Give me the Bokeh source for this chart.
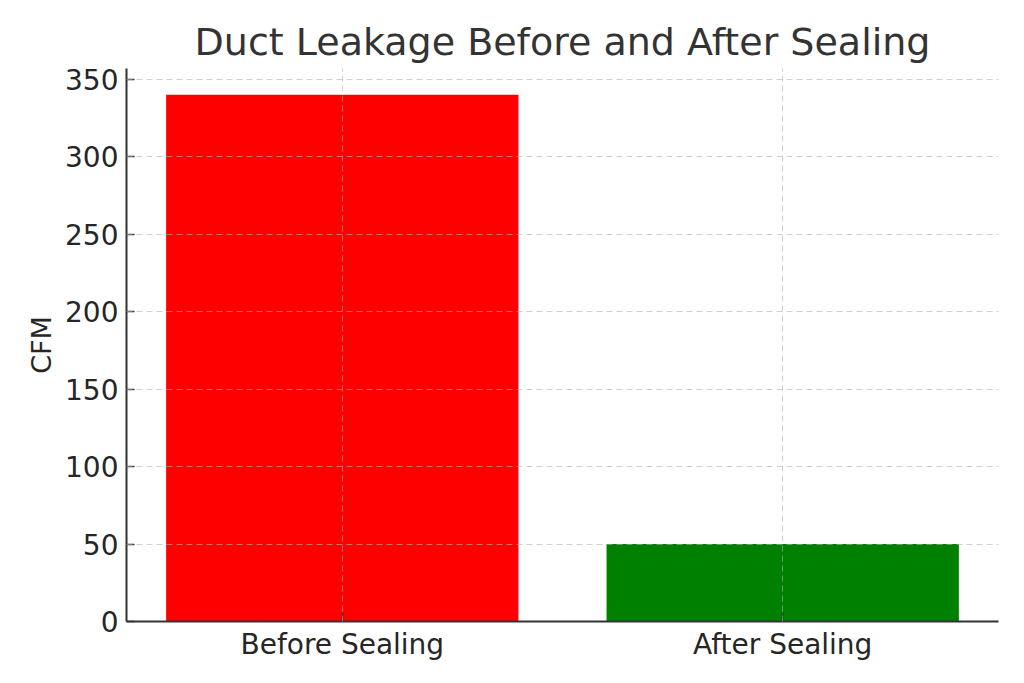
from bokeh.plotting import figure
from bokeh.models import Range1d, FixedTicker
from bokeh.embed import file_html
from bokeh.resources import INLINE

categories = ["Before Sealing", "After Sealing"]
cfm_values = [340, 50]
bar_colors = ["#ff0000", "#008000"]
y_ticks = [0, 50, 100, 150, 200, 250, 300, 350]

xs = list(range(len(categories)))

p = figure(width=1016, height=675, output_backend="svg", toolbar_location=None,
           x_range=Range1d(-0.49, len(categories) - 1 + 0.49),
           y_range=Range1d(0, max(cfm_values) * 1.05),
           title="Duct Leakage Before and After Sealing",
           min_border_left=126, min_border_right=18, min_border_top=68, min_border_bottom=54)

p.vbar(x=xs, top=cfm_values, width=0.8, color=bar_colors, line_color=None)

p.title.align = "center"
p.title.text_font = "DejaVu Sans"
p.title.text_font_size = "38px"
p.title.text_font_style = "normal"
p.title.text_color = "#333333"

p.outline_line_color = None
p.background_fill_color = "white"
p.border_fill_color = "white"

p.xaxis.ticker = FixedTicker(ticks=xs)
p.xaxis.major_label_overrides = {i: c for i, c in enumerate(categories)}
p.yaxis.ticker = FixedTicker(ticks=y_ticks)
p.yaxis.axis_label = "CFM"

for ax in (p.xaxis, p.yaxis):
    ax.axis_line_color = "#333333"
    ax.axis_line_width = 2
    ax.major_tick_line_color = "#333333"
    ax.major_tick_line_width = 1.5
    ax.major_tick_in = 8
    ax.major_tick_out = 0
    ax.minor_tick_line_color = None
    ax.major_label_text_font = "DejaVu Sans"
    ax.major_label_text_font_size = "28px"
    ax.major_label_text_color = "#262626"
    ax.axis_label_text_font = "DejaVu Sans"
    ax.axis_label_text_font_size = "27px"
    ax.axis_label_text_font_style = "normal"
    ax.axis_label_text_color = "#262626"

p.xaxis.major_label_standoff = 6
p.yaxis.major_label_standoff = 8

for g in (p.xgrid, p.ygrid):
    g.grid_line_color = "#b0b0b0"
    g.grid_line_alpha = 0.6
    g.grid_line_dash = "6 4"
    g.grid_line_width = 1
    g.level = "guide"

open("out.html", "w").write(file_html(p, INLINE))
